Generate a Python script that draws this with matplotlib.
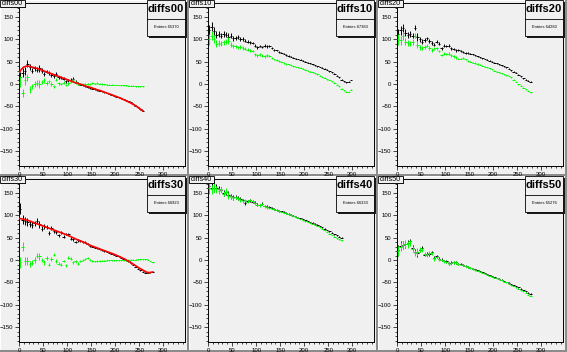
import numpy as np
import matplotlib
matplotlib.use("Agg")
import matplotlib.pyplot as plt
from matplotlib.patches import Rectangle

plt.rcParams['font.family'] = ['Liberation Sans', 'DejaVu Sans']

names = ["diffs00", "diffs10", "diffs20", "diffs30", "diffs40", "diffs50"]
entries = ["65370", "67383", "64280", "66923", "66333", "65276"]

err_all = [12, 10, 9, 8, 7, 6, 6, 6, 8, 5, 5, 4, 4, 4, 4, 4, 3, 3, 3, 3,
           3, 3, 3, 3, 3, 2, 2, 2, 2, 2, 1.5, 1.5, 1.5, 1.5, 1.5, 1, 1, 1, 1, 1,
           1, 1, 1, 1, 1, 1, 1, 1, 1, 1, 1, 1, 1, 1, 1, 1, 1, 1, 1, 1]

black00 = [15, 25, 30, 45, 38, 30, 35, 32, 35, 30, 22, 28, 25, 20, 18, 22, 15, 14, 12, 6,
           8, 10, 12, 5, 2, -1, -3, -4, -6, -8, -10, -11, -13, -15, -16, -18, -20, -22, -24, -26,
           -28, -30, -32, -34, -36, -38, -41, -44, -48, -52, -56, -60]
green00 = [5, -20, 8, 15, -12, -5, 0, 2, 0, 5, 8, 3, 6, 0, -5, 10, 2, 0, 3, -2,
           2, 5, 8, 3, 0, 1, 0, 1, 0, 1, 2, 1, 2, 1, 0, 0, -1, -1, -1, -2,
           -2, -2, -3, -3, -3, -4, -4, -4, -5, -5, -5, -5]
red00_x = [0, 5, 10, 15, 20, 30, 40, 50, 60, 70, 80, 90, 100, 110, 120, 130, 140, 150,
           160, 170, 180, 190, 200, 210, 220, 230, 240, 250, 257]
red00_y = [25, 33, 38, 40, 40, 37, 34, 30, 26, 22, 18, 14, 10, 6, 2, -1, -5, -8,
           -12, -15, -19, -23, -27, -31, -36, -41, -47, -54, -60]

black10 = [120, 128, 118, 110, 112, 108, 112, 110, 105, 108, 102, 103, 105, 100, 100, 97, 95, 93, 92, 86,
           82, 85, 83, 86, 84, 85, 80, 76, 75, 72, 70, 68, 65, 63, 61, 59, 57, 56, 54, 52,
           50, 48, 46, 44, 42, 40, 38, 36, 34, 32, 29, 26, 23, 19, 15, 10, 6, 4, 5, 9]
green10 = [100, 108, 100, 90, 92, 90, 93, 95, 97, 88, 85, 84, 82, 83, 80, 79, 77, 75, 74, 66,
           64, 66, 63, 62, 64, 63, 58, 55, 53, 51, 50, 47, 45, 44, 42, 40, 38, 37, 36, 34,
           32, 30, 28, 26, 24, 22, 19, 16, 14, 11, 9, 6, 3, -1, -5, -10, -14, -17, -17, -13]

black20 = [112, 120, 125, 115, 110, 112, 108, 126, 105, 100, 95, 98, 102, 96, 92, 88, 95, 90, 80, 86,
           85, 86, 80, 78, 75, 76, 74, 72, 70, 69, 68, 66, 64, 62, 60, 58, 56, 54, 52, 50,
           48, 46, 44, 42, 40, 37, 34, 31, 28, 25, 21, 17, 13, 10, 7, 5]
green20 = [100, 98, 108, 95, 92, 90, 94, 108, 88, 82, 80, 83, 86, 80, 76, 79, 80, 74, 65, 68,
           67, 68, 64, 62, 60, 57, 57, 58, 55, 52, 50, 48, 47, 45, 43, 41, 39, 37, 35, 33,
           30, 28, 26, 24, 22, 20, 18, 15, 10, 5, 0, -4, -8, -12, -15, -18]

black30 = [115, 90, 88, 85, 80, 78, 82, 88, 80, 70, 75, 74, 60, 72, 64, 62, 55, 62, 52, 58,
           58, 48, 46, 40, 44, 42, 40, 41, 36, 32, 30, 28, 26, 24, 22, 20, 18, 16, 14, 12,
           10, 8, 5, 3, 0, -3, -7, -11, -15, -19, -23, -26, -28, -28, -27, -26]
green30 = [-5, 30, -3, -2, -8, -6, 0, 10, 8, 0, -5, 5, -10, 2, 12, -2, -8, -10, -2, -12,
           5, 3, -5, -3, -8, -2, 0, 2, 4, 0, -2, -3, -2, -2, -1, -1, 0, 0, 0, 0,
           0, 0, 0, 0, 0, 1, 1, 1, 1, 2, 2, 2, 2, 1, -2, -5]
red30_x = [0, 10, 20, 30, 40, 50, 60, 70, 80, 90, 100, 110, 120, 130, 140, 150, 160, 170,
           180, 190, 200, 210, 220, 230, 240, 250, 260, 265, 270, 277]
red30_y = [93, 91, 88, 84, 80, 76, 72, 68, 64, 60, 56, 51, 46, 42, 37, 32, 28, 24,
           20, 16, 12, 7, 2, -4, -11, -18, -24, -27, -28, -27]

black40 = [165, 162, 160, 162, 158, 157, 150, 152, 146, 142, 140, 141, 138, 136, 133, 128, 132, 133, 130, 128,
           124, 123, 126, 121, 119, 118, 116, 114, 112, 110, 109, 107, 105, 103, 101, 99, 97, 95, 93, 91,
           89, 87, 85, 83, 81, 79, 76, 73, 70, 67, 64, 61, 58, 55, 52, 50]
green40 = [160, 158, 162, 158, 155, 158, 148, 154, 144, 141, 139, 140, 137, 134, 131, 133, 130, 134, 131, 127,
           123, 122, 125, 120, 118, 117, 115, 113, 111, 109, 108, 106, 104, 102, 100, 98, 96, 94, 92, 89,
           87, 85, 83, 81, 79, 76, 73, 70, 66, 63, 59, 56, 52, 49, 46, 44]

black50 = [22, 32, 33, 35, 38, 42, 27, 18, 15, 22, 26, 12, 13, 14, 17, 5, 8, 3, 1, -2,
           -3, -7, -6, -5, -5, -8, -9, -11, -13, -15, -17, -19, -21, -23, -25, -27, -30, -32, -34, -36,
           -38, -40, -42, -44, -47, -49, -51, -54, -56, -59, -61, -64, -67, -70, -73, -75]
green50 = [20, 30, 34, 36, 35, 38, 25, 16, 18, 24, 22, 14, 11, 16, 15, 3, 7, 2, 0, -3,
           -4, -8, -7, -5, -6, -9, -10, -12, -14, -16, -18, -20, -22, -24, -26, -28, -31, -33, -35, -37,
           -39, -41, -43, -45, -48, -50, -53, -56, -58, -61, -64, -67, -70, -73, -77, -80]

blacks = [black00, black10, black20, black30, black40, black50]
greens = [green00, green10, green20, green30, green40, green50]
reds = {0: (red00_x, red00_y), 3: (red30_x, red30_y)}

W, H = 567, 352
fig = plt.figure(figsize=(W / 100, H / 100), dpi=100)
fig.patch.set_facecolor('#c8c8c8')

PW, PH = 189, 176


def fx(px):
    return px / W


def fy(py):
    return 1 - py / H


def rect(x0, y0, w, h, **kw):
    fig.patches.append(Rectangle((fx(x0), fy(y0 + h)), w / W, h / H,
                                 transform=fig.transFigure, figure=fig, **kw))


for i in range(6):
    col, row = i % 3, i // 3
    ox, oy = col * PW, row * PH
    # pad background with bevel
    rect(ox, oy, PW, PH, facecolor='#f0f0f0', edgecolor='none', zorder=-2)
    rect(ox, oy, PW, 1, facecolor='#ffffff', edgecolor='none', zorder=-1)
    rect(ox, oy, 1, PH, facecolor='#ffffff', edgecolor='none', zorder=-1)
    rect(ox, oy + PH - 2, PW, 2, facecolor='#8c8c8c', edgecolor='none', zorder=-1)
    rect(ox + PW - 2, oy, 2, PH, facecolor='#8c8c8c', edgecolor='none', zorder=-1)

    ax = fig.add_axes([fx(ox + 19), fy(oy + 166), (185 - 19) / W, (166 - 3) / H])
    ax.set_zorder(1)
    ax.set_facecolor('#f0f0f0')
    ax.set_xlim(0, 345)
    ax.set_ylim(-183, 181)
    ax.set_xticks([0, 50, 100, 150, 200, 250, 300])
    ax.set_yticks([-150, -100, -50, 0, 50, 100, 150])
    ax.set_xticks(np.arange(0, 345, 10), minor=True)
    ax.set_yticks(np.arange(-180, 181, 10), minor=True)
    ax.tick_params(which='both', direction='out', labelsize=4.3, pad=1, width=0.5)
    ax.tick_params(which='major', length=3)
    ax.tick_params(which='minor', length=1.5)
    for s in ax.spines.values():
        s.set_linewidth(0.7)
        s.set_color('black')

    b = blacks[i]
    g = greens[i]
    n = len(b)
    x = np.arange(n) * 5 + 2.5
    e = err_all[:n]
    ax.errorbar(x, b, yerr=e, xerr=2.5, fmt='none', ecolor='black', elinewidth=0.7, zorder=2)
    ax.errorbar(x, g, yerr=e, xerr=2.5, fmt='none', ecolor='#00ff00', elinewidth=0.7, zorder=3)
    if i in reds:
        rx, ry = reds[i]
        ax.plot(rx, ry, color='#ff0000', lw=1.2, zorder=4)

    # title box
    rect(ox + 1, oy + 1, 25, 7, facecolor='#1a1a1a', edgecolor='none', zorder=5)
    rect(ox + 0, oy + 0, 25, 7, facecolor='#f0f0f0', edgecolor='black', linewidth=0.6, zorder=6)
    fig.text(fx(ox + 12.5), fy(oy + 3.7), names[i], fontsize=5.2, ha='center', va='center', zorder=7)

    # stats box
    bx0, by0, bw, bh = ox + 147, oy + 0, 38, 36
    rect(bx0 + 2, by0 + 2, bw, bh, facecolor='#1a1a1a', edgecolor='none', zorder=5)
    rect(bx0, by0, bw, bh, facecolor='#f0f0f0', edgecolor='black', linewidth=0.6, zorder=6)
    fig.lines.append(plt.Line2D([fx(bx0), fx(bx0 + bw)], [fy(by0 + 19), fy(by0 + 19)],
                                transform=fig.transFigure, color='black', lw=0.6, zorder=7))
    fig.text(fx(bx0 + bw / 2), fy(by0 + 9.5), names[i], fontsize=8, fontweight='bold',
             ha='center', va='center', zorder=7)
    fig.text(fx(bx0 + bw / 2), fy(by0 + 27.5), "Entries " + entries[i], fontsize=2.9,
             ha='center', va='center', zorder=7)

fig.savefig("out.png", dpi=100, facecolor=fig.get_facecolor())
